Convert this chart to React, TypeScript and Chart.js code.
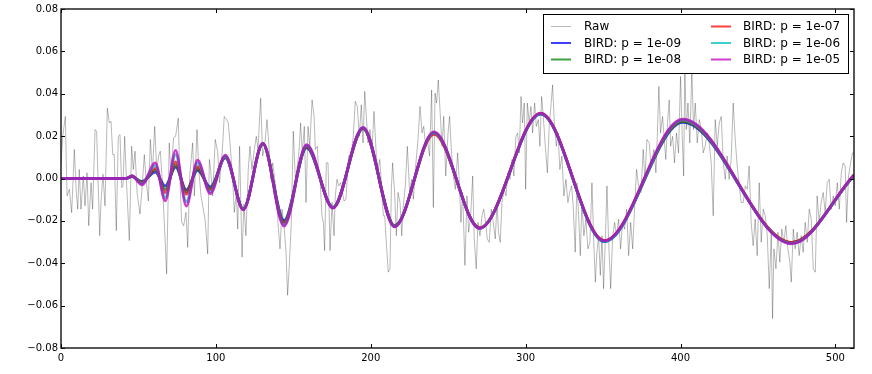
import React, { useEffect, useRef } from 'react';
import { Chart, registerables } from 'chart.js';

Chart.register(...registerables);

const FONT = "'DejaVu Sans', 'Liberation Sans', sans-serif";

// Raw noisy signal as [x, y] vertices
const rawSeg1: [number, number][] = [
  [0, 0.0059], [1.1, 0.0199], [2.8, 0.0293], [3.9, -0.0082], [5.4, -0.0051], [6.9, -0.0161], [8.6, 0.0137], [9.9, -0.0067],
  [10.8, -0.0145], [11.8, 0.0043], [12.9, -0.0145], [14.4, 0.0012], [15.5, -0.0129], [16.8, 0.0027], [17.9, -0.0223], [19.4, -0.002],
  [20.4, -0.0145], [22.0, 0.0231], [23.0, 0.0223], [25.0, -0.027], [25.8, -0.0113], [27.1, 0.002], [28.4, -0.0129], [29.9, 0.0332],
  [31.2, 0.0262], [32.3, 0.027], [33.4, 0.0113], [34.4, 0.0113], [35.7, -0.0246], [37.0, 0.0199], [38.1, 0.0207], [39.2, -0.0043],
  [40.0, -0.0035], [41.1, 0.0199], [42.4, -0.0035], [44.1, -0.0293], [45.6, 0.0152], [46.7, 0.0043], [47.8, 0.0129], [49.1, -0.0066],
  [51.0, -0.0168], [52.3, -0.0051], [53.8, 0.0113], [54.9, -0.0004], [56.4, -0.0106], [57.7, 0.0184], [59.0, 0.0027], [60.5, 0.0246],
  [61.8, 0.0043], [63.1, 0.0106], [64.1, 0.0129], [65.2, 0.0012], [66.7, -0.0207], [68.2, -0.045], [69.9, 0.0168], [71.0, 0.0012],
  [72.7, 0.0192], [74.0, 0.0199], [75.7, 0.0285], [76.8, -0.0004], [77.9, -0.0207], [79.2, -0.0223], [80.7, -0.016], [81.8, -0.0325],
  [83.1, 0.0012], [85.0, 0.0168], [86.1, -0.0082], [87.8, 0.0231], [89.1, 0.0027], [90.4, -0.0082], [91.5, -0.0129], [93.0, -0.0192],
  [94.7, -0.0356], [95.8, 0.009], [96.6, 0.0043], [97.9, -0.0082], [99.6, 0.0184], [101.1, 0.0129], [102.4, -0.002], [104.2, 0.0137],
  [105.4, 0.0293], [107.0, 0.0278], [108.0, 0.0262], [109.3, 0.0152], [110.8, -0.0004], [111.9, -0.016], [113.2, -0.0066], [114.1, -0.0239],
  [115.3, 0.0152], [116.9, -0.0371], [118.1, -0.0121], [119.4, -0.027], [120.9, 0.0043], [122.0, 0.0152], [123.3, 0.0043], [124.8, 0.0137],
  [126.1, 0.0199],
];
const rawSeg2: [number, number][] = [
  [127.2, 0.0137], [128.9, 0.0379], [130.2, 0.0106], [131.5, 0.0152], [133.0, 0.0278], [134.3, 0.0152], [135.4, -0.0004], [136.7, 0.0074],
  [138.0, -0.0004], [139.0, -0.0066], [140.1, -0.0207], [141.4, -0.0332], [142.7, -0.0145], [144.0, -0.0223], [145.3, -0.0348], [146.3, -0.0551],
  [147.4, -0.041], [148.7, -0.0207], [150.0, 0.0223], [151.3, -0.0004], [152.6, 0.0059], [153.7, 0.0129], [154.7, 0.0262], [155.8, 0.0121],
  [157.1, 0.0246], [158.2, -0.0113], [159.5, 0.0246], [160.6, 0.0152], [162.1, 0.0371], [163.4, 0.0293], [164.2, 0.0137], [165.5, 0.0152],
  [166.4, 0.0012], [167.4, -0.002], [168.5, -0.0176], [169.4, -0.0207], [170.2, -0.034], [171.3, 0.0074], [172.4, 0.0074], [173.7, -0.034],
  [175.0, -0.0113], [176.3, -0.027], [177.1, -0.0082], [178.2, -0.0004], [179.3, -0.0035], [180.6, -0.002], [181.4, -0.0051], [182.7, -0.0106],
  [184.0, -0.0098], [184.9, 0.0012], [185.7, 0.0106], [187.5, 0.0121], [188.7, 0.0199], [190.0, 0.0364], [191.3, 0.034], [192.6, 0.0199],
  [193.9, 0.0348], [195.0, 0.0168], [196.1, 0.0411], [197.4, 0.0262], [198.2, 0.0168], [199.5, 0.0231], [200.8, 0.0137], [202.1, 0.0317],
  [203.6, 0.0106], [204.7, 0.0043], [205.8, 0.009], [207.3, -0.0066], [208.1, -0.0176], [209.0, -0.0176], [210.3, -0.0332], [211.3, -0.0442],
  [212.4, -0.0426], [213.3, -0.0051], [214.1, 0.0074], [215.4, -0.0066], [216.5, -0.027], [217.6, -0.0066], [218.9, -0.0113], [220.0, -0.027],
  [221.0, -0.0129], [222.3, -0.0035], [223.6, 0.0152], [225.1, -0.0066], [226.4, -0.0004], [227.5, -0.0098], [228.8, 0.0043], [230.5, 0.0184],
  [231.8, 0.034], [233.1, 0.0215], [234.2, 0.0246], [235.4, 0.0152], [236.5, 0.0184], [238.0, 0.0106], [239.3, 0.0418], [240.4, -0.0137],
  [241.5, 0.0403], [242.5, 0.0356], [243.6, 0.0465], [244.7, 0.0325], [246.0, 0.0152], [247.1, 0.0293], [248.4, 0.0012], [249.9, 0.0215],
  [250.9, 0.0293], [252.0, 0.0137], [253.3, 0.0012], [254.6, -0.0051],
];
const rawSeg3: [number, number][] = [
  [256.1, 0.0121], [257.2, -0.002], [258.2, -0.0207], [259.3, -0.0066], [260.8, -0.041], [262.1, -0.0082], [263.2, -0.0254], [264.5, -0.0176],
  [265.8, 0.0012], [266.8, -0.0285], [268.1, -0.0426], [269.2, -0.0207], [270.5, -0.027], [271.8, -0.0176], [272.9, -0.0145], [274.2, -0.0207],
  [275.2, -0.0285], [276.5, -0.0301], [277.8, -0.0145], [279.1, -0.0207], [280.4, -0.0285], [281.5, -0.0113], [282.5, -0.0254], [283.6, -0.0301],
  [284.7, -0.0113], [286.2, -0.0051], [287.3, -0.0082], [288.6, 0.0027], [289.9, -0.0004], [291.2, 0.009], [292.4, 0.0012], [293.7, 0.0199],
  [294.8, 0.0215], [295.9, 0.0121], [297.0, 0.0387], [298.0, 0.0262], [299.1, 0.0356], [300.0, -0.0051], [301.1, 0.0356], [302.3, 0.0262],
  [303.4, 0.034], [304.5, 0.0215], [305.8, 0.0356], [306.9, 0.0246], [308.2, 0.0278], [309.2, 0.0152], [310.3, 0.0387], [311.4, 0.0293],
  [312.7, 0.0152], [314.0, 0.0027], [315.3, 0.0262], [316.3, 0.034], [317.4, 0.0442], [318.5, 0.0262], [319.8, 0.0152], [320.9, 0.0215],
  [322.1, 0.0043], [323.4, 0.0106], [324.7, -0.0082], [326.0, -0.0004], [327.3, -0.0113], [328.4, -0.0066], [329.7, -0.0035], [330.7, -0.0129],
  [332.0, -0.0348], [333.1, -0.002], [334.2, -0.0176], [335.3, -0.0364], [336.3, -0.0113], [337.6, -0.027], [338.9, -0.0192], [340.2, -0.0332],
  [341.5, -0.0301], [342.8, -0.002], [343.9, -0.0285], [345.0, -0.0489], [346.0, -0.0348], [347.1, -0.027], [348.2, -0.0457], [349.3, -0.027],
  [350.3, -0.052], [351.4, -0.0301], [352.5, -0.0035], [353.6, -0.0301], [354.9, -0.052], [356.1, -0.0285], [357.4, -0.0207], [358.7, -0.027],
  [360.0, -0.0192], [361.3, -0.0332], [362.6, -0.0207], [363.9, -0.0239], [365.2, -0.0145], [366.5, -0.0364], [367.8, -0.0207], [369.1, -0.0332],
  [370.3, -0.0145], [371.6, 0.0043], [372.9, -0.0035], [374.4, -0.0066], [375.9, 0.0137], [377.0, -0.0004], [378.3, 0.0184], [379.8, 0.0168],
  [380.9, 0.0059],
];
const rawSeg4: [number, number][] = [
  [382.8, 0.0137], [384.1, 0.0027], [385.0, 0.0199], [386.0, 0.0434], [387.1, 0.0215], [388.4, 0.0293], [389.5, 0.0184], [390.5, 0.009],
  [391.6, 0.0262], [392.7, 0.0371], [393.6, 0.0152], [394.9, 0.0199], [396.1, 0.0074], [397.4, 0.0215], [398.7, 0.0121], [400.0, 0.0481],
  [401.1, 0.0199], [402.0, 0.0012], [402.8, 0.0528], [403.7, 0.0231], [404.8, 0.0356], [406.0, 0.0168], [407.3, 0.0512], [408.4, 0.0231],
  [409.5, 0.0356], [410.8, 0.0168], [412.1, 0.0278], [413.4, 0.0231], [414.7, 0.0121], [415.9, 0.0152], [417.2, 0.0215], [418.5, 0.0168],
  [419.8, 0.0074], [421.1, -0.0176], [422.4, 0.0278], [423.7, 0.0152], [425.0, 0.0262], [426.3, 0.0293], [427.6, 0.0074], [428.9, -0.0004],
  [430.1, 0.0106], [431.4, -0.0004], [432.7, 0.009], [434.0, 0.0356], [435.3, 0.0184], [436.6, 0.0059], [437.9, -0.0035], [439.2, -0.0113],
  [440.5, -0.0113], [441.8, -0.0035], [443.1, -0.0051], [444.3, 0.0059], [445.6, -0.0207], [446.9, -0.0317], [448.2, -0.0192], [449.5, -0.0364],
  [450.8, -0.002], [452.1, -0.0301], [453.4, -0.0145], [454.7, -0.0176], [456.0, -0.027], [457.3, -0.052], [458.6, -0.0254], [459.4, -0.0661],
  [460.3, -0.0332], [461.6, -0.0426], [462.9, -0.0254], [464.1, -0.0395], [465.4, -0.0239], [466.7, -0.0301], [468.0, -0.0223], [469.3, -0.0332],
  [470.6, -0.0395], [471.5, -0.0489], [472.8, -0.0239], [474.0, -0.0332], [475.3, -0.0254], [476.6, -0.0364], [477.9, -0.027], [479.2, -0.0348],
  [480.5, -0.0207], [481.8, -0.0301], [483.1, -0.0145], [484.4, -0.0192], [485.7, -0.0426], [487.0, -0.0442], [488.2, -0.0082], [489.5, -0.0207],
  [490.8, -0.0113], [492.1, -0.0066], [493.4, -0.016], [494.7, -0.002], [496.0, -0.0004], [497.3, -0.0145], [498.6, -0.0082], [499.9, -0.0129],
  [501.2, -0.002], [502.5, -0.0145], [503.8, 0.0027], [505.0, 0.0074], [506.3, 0.0059], [507.2, -0.0207], [508.5, 0.0012], [509.8, 0.0074],
  [511.1, 0.0121], [512, 0.012],
];

// BIRD reconstructions: values at the curves' turning points
const birdX = [0, 42, 45.8, 52.3, 60.9, 67.3, 74.0, 80.9, 88.2, 96.4, 106.1, 117.7, 130.3, 144.0, 158.6, 175.6, 195.0, 215.4, 240.8, 270.3, 309.7, 350.8, 401.5, 471.8, 512];
const bird1e09 = [0, 0, 0.0009, -0.0014, 0.0030, -0.0035, 0.0054, -0.0054, 0.0038, -0.0040, 0.0098, -0.0143, 0.0162, -0.0198, 0.0145, -0.0136, 0.0236, -0.0223, 0.0213, -0.0233, 0.0304, -0.0298, 0.0265, -0.0303, 0.0013];
const bird1e08 = [0, 0, 0.0010, -0.0017, 0.0040, -0.0051, 0.0064, -0.0063, 0.0046, -0.0048, 0.0101, -0.0144, 0.0164, -0.0206, 0.0149, -0.0137, 0.0237, -0.0224, 0.0214, -0.0234, 0.0305, -0.0295, 0.0269, -0.0303, 0.0014];
const bird1e07 = [0, 0, 0.0011, -0.0020, 0.0048, -0.0066, 0.0078, -0.0074, 0.0056, -0.0054, 0.0103, -0.0145, 0.0165, -0.0211, 0.0153, -0.0138, 0.0238, -0.0225, 0.0208, -0.0232, 0.0308, -0.0293, 0.0273, -0.0302, 0.0015];
const bird1e06 = [0, 0, 0.0012, -0.0025, 0.0061, -0.0090, 0.0113, -0.0110, 0.0074, -0.0063, 0.0105, -0.0146, 0.0166, -0.0219, 0.0156, -0.0139, 0.0240, -0.0227, 0.0216, -0.0235, 0.0306, -0.0297, 0.0276, -0.0306, 0.0016];
const bird1e05 = [0, 0, 0.0013, -0.0030, 0.0074, -0.0106, 0.0133, -0.0130, 0.0087, -0.0072, 0.0110, -0.0148, 0.0167, -0.0225, 0.0160, -0.0140, 0.0241, -0.0228, 0.0220, -0.0236, 0.0307, -0.0294, 0.0280, -0.0308, 0.0018];

const seriesLabels = ['Raw', 'BIRD: p = 1e-09', 'BIRD: p = 1e-08', 'BIRD: p = 1e-07', 'BIRD: p = 1e-06', 'BIRD: p = 1e-05'];
const seriesColors = [
  'rgba(0,0,0,0.28)',
  'rgba(0,0,255,0.75)',
  'rgba(0,128,0,0.75)',
  'rgba(255,0,0,0.75)',
  'rgba(0,191,191,0.75)',
  'rgba(191,0,191,0.75)',
];

const xTickValues = [0, 100, 200, 300, 400, 500];
const xTickLabels = ['0', '100', '200', '300', '400', '500'];
const yTickValues = [-0.08, -0.06, -0.04, -0.02, 0, 0.02, 0.04, 0.06, 0.08];
const yTickLabels = ['\u22120.08', '\u22120.06', '\u22120.04', '\u22120.02', '0.00', '0.02', '0.04', '0.06', '0.08'];

const framePlugin = {
  id: 'frameTicks',
  afterDatasetsDraw(chart: any) {
    const { ctx, chartArea: a, scales } = chart;
    ctx.save();
    ctx.strokeStyle = '#000';
    ctx.lineWidth = 1;
    ctx.beginPath();
    for (const v of xTickValues) {
      const x = Math.round(scales.x.getPixelForValue(v)) + 0.5;
      ctx.moveTo(x, a.bottom);
      ctx.lineTo(x, a.bottom - 4);
      ctx.moveTo(x, a.top);
      ctx.lineTo(x, a.top + 4);
    }
    for (const v of yTickValues) {
      const y = Math.round(scales.y.getPixelForValue(v)) + 0.5;
      ctx.moveTo(a.left, y);
      ctx.lineTo(a.left + 4, y);
      ctx.moveTo(a.right, y);
      ctx.lineTo(a.right - 4, y);
    }
    ctx.stroke();
    ctx.lineWidth = 1.4;
    ctx.strokeStyle = '#111';
    ctx.strokeRect(a.left, a.top, a.right - a.left, a.bottom - a.top);
    ctx.restore();
  },
};

const legendPlugin = {
  id: 'insideLegend',
  afterDraw(chart: any) {
    const { ctx, chartArea: a } = chart;
    const w = 305;
    const h = 59;
    const left = a.right - 6 - w;
    const top = a.top + 5;
    ctx.save();
    ctx.fillStyle = '#fff';
    ctx.fillRect(left, top, w, h);
    ctx.strokeStyle = '#000';
    ctx.lineWidth = 1;
    ctx.strokeRect(left + 0.5, top + 0.5, w, h);
    ctx.font = `12px ${FONT}`;
    ctx.textBaseline = 'middle';
    ctx.textAlign = 'left';
    const rowY = [12.5, 29, 45.5];
    const colLine = [8, 168];
    const colText = [41, 200];
    seriesLabels.forEach((label, i) => {
      const col = Math.floor(i / 3);
      const row = i % 3;
      const y = top + rowY[row];
      ctx.strokeStyle = seriesColors[i];
      ctx.lineWidth = i === 0 ? 1 : 2;
      ctx.beginPath();
      ctx.moveTo(left + colLine[col], y);
      ctx.lineTo(left + colLine[col] + 20, y);
      ctx.stroke();
      ctx.fillStyle = '#000';
      ctx.fillText(label, left + colText[col], y + 0.5);
    });
    ctx.restore();
  },
};

export default function App() {
  const canvasRef = useRef<HTMLCanvasElement | null>(null);

  useEffect(() => {
    if (!canvasRef.current) return;
    const raw = [...rawSeg1, ...rawSeg2, ...rawSeg3, ...rawSeg4].map(([x, y]) => ({ x, y }));
    const birdSeries = [bird1e09, bird1e08, bird1e07, bird1e06, bird1e05];
    const datasets: any[] = [
      {
        label: seriesLabels[0],
        data: raw,
        borderColor: seriesColors[0],
        borderWidth: 1,
        pointRadius: 0,
        tension: 0,
        borderJoinStyle: 'round',
        order: 10,
      },
      ...birdSeries.map((ys, i) => ({
        label: seriesLabels[i + 1],
        data: birdX.map((x, k) => ({ x, y: ys[k] })),
        borderColor: seriesColors[i + 1],
        borderWidth: 2.8,
        pointRadius: 0,
        borderJoinStyle: 'round',
        cubicInterpolationMode: 'monotone',
        order: 5 - i,
      })),
    ];

    const chart = new Chart(canvasRef.current, {
      type: 'line',
      data: { datasets },
      options: {
        responsive: false,
        animation: false,
        devicePixelRatio: 1,
        layout: { padding: { top: 7, right: 18, left: 0, bottom: 0 } },
        plugins: { legend: { display: false }, tooltip: { enabled: false } },
        scales: {
          x: {
            type: 'linear',
            min: 0,
            max: 512,
            grid: { display: false, drawTicks: false },
            border: { display: false },
            afterBuildTicks: (s: any) => {
              s.ticks = xTickValues.map((v) => ({ value: v }));
            },
            afterFit: (s: any) => {
              s.height = 26;
            },
            ticks: {
              autoSkip: false,
              maxRotation: 0,
              padding: 4,
              color: '#000',
              font: { family: FONT, size: 10 },
              callback: (_v: any, i: number) => xTickLabels[i],
            },
          },
          y: {
            type: 'linear',
            min: -0.08,
            max: 0.08,
            grid: { display: false, drawTicks: false },
            border: { display: false },
            afterBuildTicks: (s: any) => {
              s.ticks = yTickValues.map((v) => ({ value: v }));
            },
            afterFit: (s: any) => {
              s.width = 61;
            },
            ticks: {
              autoSkip: false,
              padding: 3,
              color: '#000',
              font: { family: FONT, size: 10 },
              callback: (_v: any, i: number) => yTickLabels[i],
            },
          },
        },
      } as any,
      plugins: [framePlugin, legendPlugin],
    });
    return () => chart.destroy();
  }, []);

  return (
    <div style={{ position: 'fixed', left: 0, top: 0, width: 872, height: 374, background: '#fff' }}>
      <canvas ref={canvasRef} width={872} height={374} style={{ display: 'block', width: 872, height: 374 }} />
    </div>
  );
}
